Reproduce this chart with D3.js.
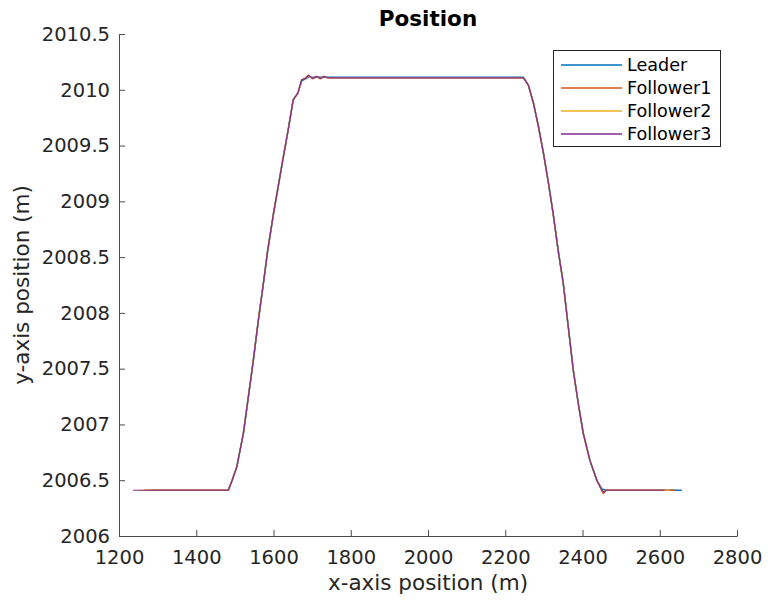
<!DOCTYPE html>
<html lang="en">
<head>
    <meta charset="UTF-8">
    <title>Position</title>
    <script src="https://cdnjs.cloudflare.com/ajax/libs/d3/7.8.5/d3.min.js"></script>
    <style>
        body {
            margin: 0;
            background: #ffffff;
            font-family: 'DejaVu Sans', sans-serif;
        }

        .axis text {
            font-size: 19.5px;
            fill: #262626;
            font-family: 'DejaVu Sans', sans-serif;
        }

        .axis path,
        .axis line {
            stroke: #4a4a4a;
        }

        .traj {
            fill: none;
            stroke-linejoin: round;
        }
    </style>
</head>
<body>
    <div id="chart"></div>

    <script>
        // Series names and colours (MATLAB default order)
        const seriesNames = ["Leader", "Follower1", "Follower2", "Follower3"];
        const seriesColors = ["#0072BD", "#D95319", "#EDB120", "#7E2F8E"];

        // Trajectories as [x, y] pairs
        const leader = [
            [1283, 2006.41], [1483, 2006.41], [1493, 2006.50], [1505, 2006.62], [1522, 2006.92],
            [1535, 2007.25], [1548, 2007.58], [1561, 2007.94], [1574, 2008.27], [1585, 2008.56],
            [1600, 2008.89], [1621, 2009.31], [1638, 2009.64], [1651, 2009.91], [1663, 2009.97],
            [1673, 2010.08], [1690, 2010.112], [2247, 2010.112], [2260, 2010.04], [2273, 2009.88],
            [2286, 2009.67], [2299, 2009.43], [2312, 2009.16], [2324, 2008.89], [2337, 2008.56],
            [2350, 2008.27], [2363, 2007.88], [2376, 2007.49], [2389, 2007.19], [2402, 2006.92],
            [2419, 2006.68], [2437, 2006.50], [2450, 2006.42], [2462, 2006.41], [2657, 2006.41]
        ];

        const follower1 = [
            [1265, 2006.41], [1483, 2006.41], [1493, 2006.50], [1505, 2006.62], [1522, 2006.92],
            [1535, 2007.25], [1548, 2007.58], [1561, 2007.94], [1574, 2008.27], [1585, 2008.56],
            [1600, 2008.89], [1621, 2009.31], [1638, 2009.64], [1651, 2009.91], [1663, 2009.97],
            [1673, 2010.09], [1680, 2010.10], [1690, 2010.13], [1700, 2010.10], [1711, 2010.12],
            [1720, 2010.10], [1729, 2010.12], [1738, 2010.108], [2247, 2010.108], [2260, 2010.04],
            [2273, 2009.88], [2286, 2009.67], [2299, 2009.43], [2312, 2009.16], [2324, 2008.89],
            [2337, 2008.56], [2350, 2008.27], [2363, 2007.88], [2376, 2007.49], [2389, 2007.19],
            [2402, 2006.92], [2419, 2006.68], [2437, 2006.50], [2449, 2006.41], [2454, 2006.38],
            [2459, 2006.41], [2467, 2006.41], [2639, 2006.41]
        ];

        const follower2 = [
            [1250, 2006.41], [1483, 2006.41], [1493, 2006.50], [1505, 2006.62], [1522, 2006.92],
            [1535, 2007.25], [1548, 2007.58], [1561, 2007.94], [1574, 2008.27], [1585, 2008.56],
            [1600, 2008.89], [1621, 2009.31], [1638, 2009.64], [1651, 2009.91], [1663, 2009.97],
            [1673, 2010.09], [1681, 2010.10], [1690, 2010.12], [1701, 2010.10], [1712, 2010.12],
            [1721, 2010.10], [1730, 2010.12], [1740, 2010.108], [2247, 2010.108], [2260, 2010.04],
            [2273, 2009.88], [2286, 2009.67], [2299, 2009.43], [2312, 2009.16], [2324, 2008.89],
            [2337, 2008.56], [2350, 2008.27], [2363, 2007.88], [2376, 2007.49], [2389, 2007.19],
            [2402, 2006.92], [2419, 2006.68], [2437, 2006.50], [2450, 2006.41], [2455, 2006.39],
            [2461, 2006.41], [2468, 2006.41], [2626, 2006.41]
        ];

        const follower3 = [
            [1236, 2006.41], [1483, 2006.41], [1493, 2006.50], [1505, 2006.62], [1522, 2006.92],
            [1535, 2007.25], [1548, 2007.58], [1561, 2007.94], [1574, 2008.27], [1585, 2008.56],
            [1600, 2008.89], [1621, 2009.31], [1638, 2009.64], [1651, 2009.91], [1663, 2009.97],
            [1673, 2010.09], [1682, 2010.10], [1691, 2010.13], [1702, 2010.10], [1713, 2010.12],
            [1722, 2010.10], [1731, 2010.12], [1742, 2010.106], [2247, 2010.106], [2260, 2010.04],
            [2273, 2009.88], [2286, 2009.67], [2299, 2009.43], [2312, 2009.16], [2324, 2008.89],
            [2337, 2008.56], [2350, 2008.27], [2363, 2007.88], [2376, 2007.49], [2389, 2007.19],
            [2402, 2006.92], [2419, 2006.68], [2437, 2006.50], [2450, 2006.41], [2456, 2006.39],
            [2462, 2006.41], [2470, 2006.41], [2613, 2006.41]
        ];

        const allSeries = [leader, follower1, follower2, follower3];
        const seriesWidths = [1.6, 1.3, 1.2, 1.2];

        // Axis ticks
        const xTicks = [1200, 1400, 1600, 1800, 2000, 2200, 2400, 2600, 2800];
        const yTicks = [2006, 2006.5, 2007, 2007.5, 2008, 2008.5, 2009, 2009.5, 2010, 2010.5];

        // Layout
        const width = 768;
        const height = 607;
        const margin = { top: 34, right: 31, bottom: 71, left: 119 };
        const innerW = width - margin.left - margin.right;
        const innerH = height - margin.top - margin.bottom;

        const svg = d3.select("#chart")
            .append("svg")
            .attr("width", width)
            .attr("height", height);

        const g = svg.append("g")
            .attr("transform", `translate(${margin.left},${margin.top})`);

        const x = d3.scaleLinear().domain([1200, 2800]).range([0, innerW]);
        const y = d3.scaleLinear().domain([2006, 2010.5]).range([innerH, 0]);

        // Axes (ticks point inward like MATLAB)
        g.append("g")
            .attr("class", "axis")
            .attr("transform", `translate(0,${innerH})`)
            .call(d3.axisBottom(x)
                .tickValues(xTicks)
                .tickFormat(d3.format("d"))
                .tickSizeInner(-6)
                .tickSizeOuter(0)
                .tickPadding(14));

        g.append("g")
            .attr("class", "axis")
            .call(d3.axisLeft(y)
                .tickValues(yTicks)
                .tickFormat(d => String(d))
                .tickSizeInner(-6)
                .tickSizeOuter(0)
                .tickPadding(9));

        // Trajectory lines
        const line = d3.line()
            .x(d => x(d[0]))
            .y(d => y(d[1]));

        g.append("g")
            .selectAll("path")
            .data(allSeries)
            .join("path")
            .attr("class", "traj")
            .attr("stroke", (d, i) => seriesColors[i])
            .attr("stroke-width", (d, i) => seriesWidths[i])
            .attr("d", line);

        // Title and axis labels
        svg.append("text")
            .attr("x", margin.left + innerW / 2)
            .attr("y", 26)
            .attr("text-anchor", "middle")
            .attr("font-size", "21.5px")
            .attr("font-weight", "bold")
            .attr("fill", "#000")
            .text("Position");

        svg.append("text")
            .attr("x", margin.left + innerW / 2)
            .attr("y", 590)
            .attr("text-anchor", "middle")
            .attr("font-size", "21.5px")
            .attr("fill", "#262626")
            .text("x-axis position (m)");

        svg.append("text")
            .attr("transform", `translate(29,${margin.top + innerH / 2}) rotate(-90)`)
            .attr("text-anchor", "middle")
            .attr("font-size", "21.5px")
            .attr("fill", "#262626")
            .text("y-axis position (m)");

        // Legend
        const legend = svg.append("g")
            .attr("transform", "translate(553.5,50.5)");

        legend.append("rect")
            .attr("width", 167)
            .attr("height", 96)
            .attr("fill", "#fff")
            .attr("stroke", "#262626")
            .attr("stroke-width", 1);

        const item = legend.selectAll("g.item")
            .data(seriesNames)
            .join("g")
            .attr("class", "item")
            .attr("transform", (d, i) => `translate(0,${14.5 + i * 23})`);

        item.append("line")
            .attr("x1", 7.5)
            .attr("x2", 68.5)
            .attr("stroke", (d, i) => seriesColors[i])
            .attr("stroke-width", 1.3);

        item.append("text")
            .attr("x", 73.5)
            .attr("dy", "0.36em")
            .attr("font-size", "17.6px")
            .attr("fill", "#000")
            .text(d => d);
    </script>
</body>
</html>
